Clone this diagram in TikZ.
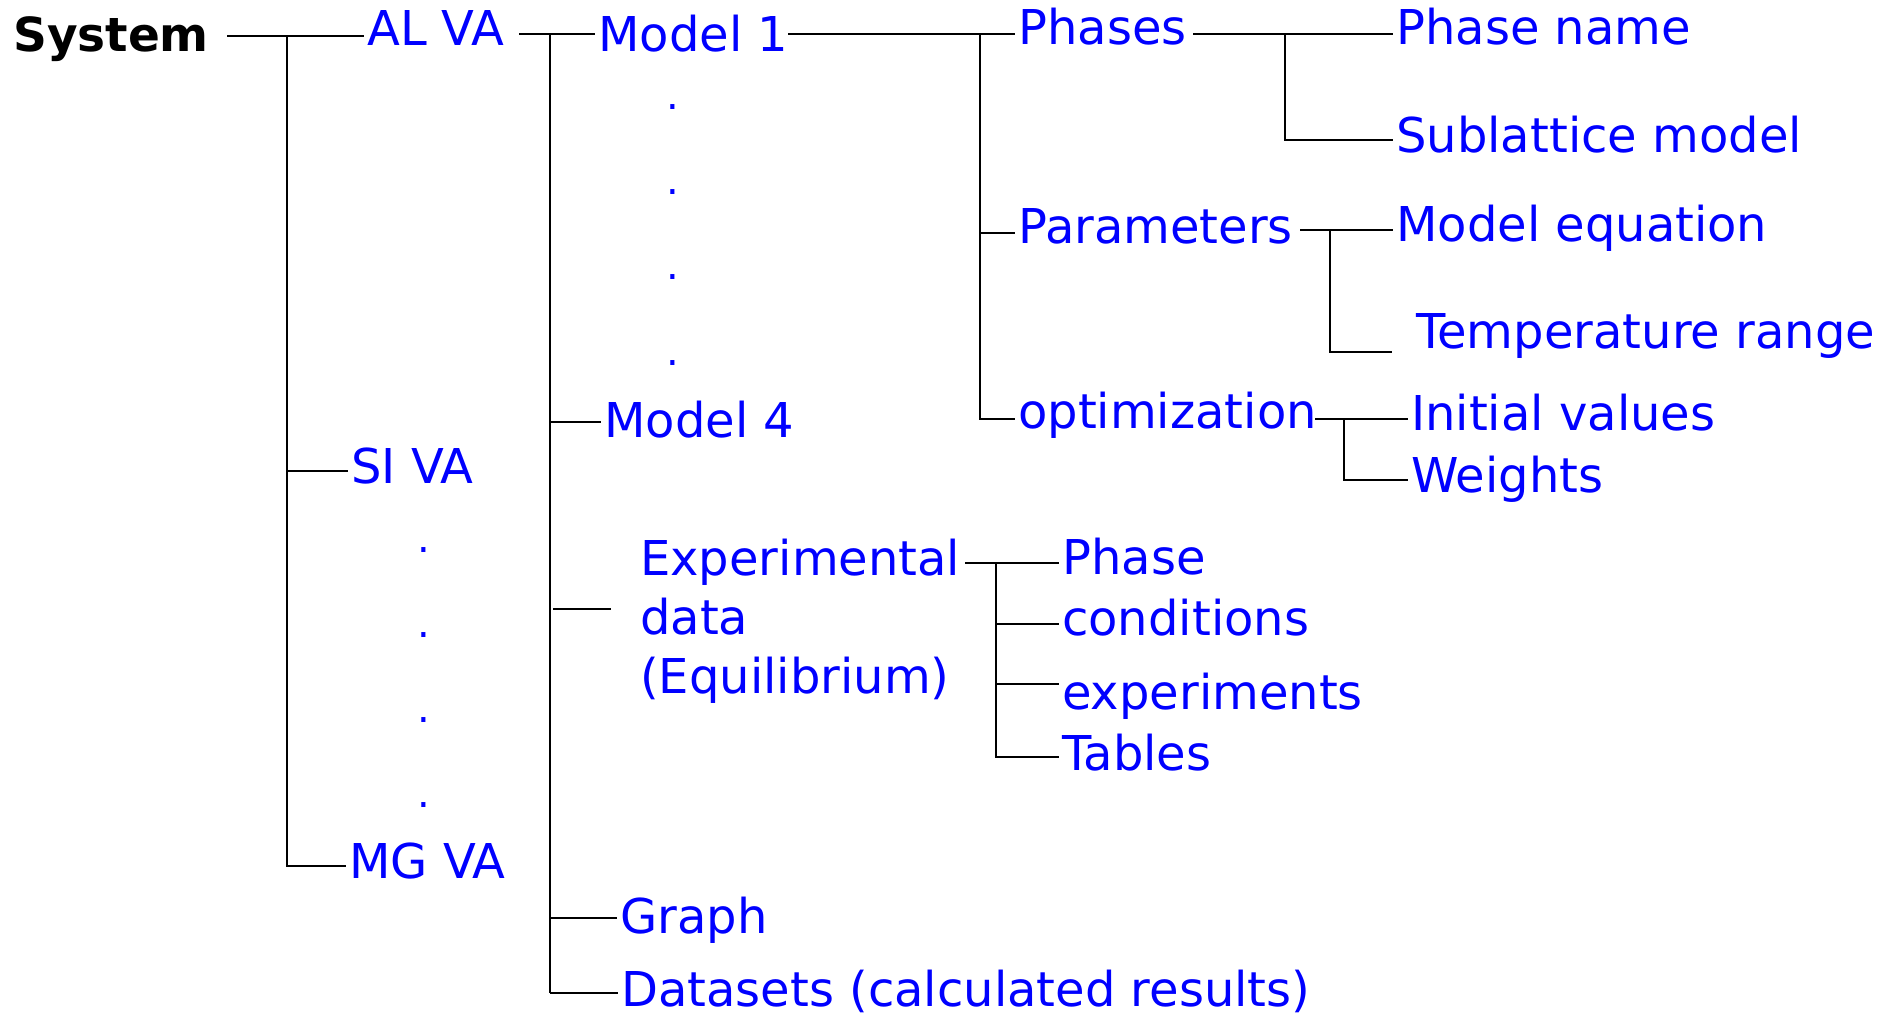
\documentclass[tikz,border=0pt]{standalone}
\usepackage{fontspec}
\setmainfont{DejaVu Sans}
\usetikzlibrary{calc}
\definecolor{tblue}{RGB}{0,0,255}
\begin{document}
\begin{tikzpicture}[x=1pt,y=-1pt,
  lbl/.style={text=tblue, font=\fontsize{48}{59}\selectfont, inner xsep=3pt, inner ysep=0pt, anchor=base west, align=left},
  rootlbl/.style={text=black, font=\fontsize{47}{57}\selectfont\bfseries, inner sep=0pt, anchor=base west},
  dotlbl/.style={text=tblue, font=\fontsize{40}{46}\selectfont, inner sep=0pt},
  conn/.style={draw=black, line width=1.8pt}]
\useasboundingbox (0,0) rectangle (1886,1014);

% ---- labels ----
\node[rootlbl] (sys) at (13,52) {System};
\node[lbl] (alva) at (364,46) {AL VA};
\node[lbl] (siva) at (348,483) {SI VA};
\node[lbl] (mgva) at (346,878) {MG VA};
\node[dotlbl] (sd1) at (424,550) {.};
\node[dotlbl] (sd2) at (424,635) {.};
\node[dotlbl] (sd3) at (424,720) {.};
\node[dotlbl] (sd4) at (424,805) {.};

\node[lbl] (m1) at (595,52) {Model 1};
\node[dotlbl] (md1) at (673,107) {.};
\node[dotlbl] (md2) at (673,192) {.};
\node[dotlbl] (md3) at (673,277) {.};
\node[dotlbl] (md4) at (673,363) {.};
\node[lbl] (m4) at (601,437) {Model 4};
\node[lbl] (exp) at (637,693) {Experimental\\data\\(Equilibrium)};
\node[lbl] (graph) at (617,933) {Graph};
\node[lbl] (dsets) at (618,1006) {Datasets (calculated results)};

\node[lbl] (phases) at (1015,45) {Phases};
\node[lbl] (params) at (1015,243) {Parameters};
\node[lbl] (optim) at (1015,428) {optimization};

\node[lbl] (pname) at (1393,45) {Phase name};
\node[lbl] (subl) at (1393,152) {Sublattice model};
\node[lbl] (meq) at (1393,241) {Model equation};
\node[lbl] (trange) at (1413,348) {Temperature range};
\node[lbl] (init) at (1408,430) {Initial values};
\node[lbl] (wts) at (1408,492) {Weights};

\node[lbl] (ephase) at (1059,574) {Phase};
\node[lbl] (econd) at (1059,635) {conditions};
\node[lbl] (eexp) at (1059,709) {experiments};
\node[lbl] (etab) at (1059,770) {Tables};

% ---- junction coordinates ----
\coordinate (s0) at (227,36);
\coordinate (t0) at (287,36);
\coordinate (t0b) at (287,866);
\coordinate (a0) at (519,34);
\coordinate (t1) at (550,34);
\coordinate (t1b) at (550,993);
\coordinate (e0) at (553,609);
\coordinate (m0) at (788,34);
\coordinate (t2) at (980,34);
\coordinate (t2b) at (980,419);
\coordinate (p0) at (1193,34);
\coordinate (t3) at (1285,34);
\coordinate (t3b) at (1285,140);
\coordinate (q0) at (1300,230);
\coordinate (t4) at (1330,230);
\coordinate (t4b) at (1330,352);
\coordinate (o0) at (1315,419);
\coordinate (t5) at (1344,419);
\coordinate (t5b) at (1344,480);
\coordinate (x0) at (965,563);
\coordinate (t6) at (996,563);
\coordinate (t6b) at (996,757);

% ---- connectors ----
% System
\draw[conn] (s0) -- (alva.west |- s0);
\draw[conn] (t0) -- (t0b) -- (mgva.west |- t0b);
\draw[conn] (287,471) -- (siva.west |- 0,471);
% AL VA
\draw[conn] (a0) -- (m1.west |- a0);
\draw[conn] (t1) -- (t1b);
\draw[conn] (550,422) -- (m4.west |- 0,422);
\draw[conn] (e0) -- (611,609);
\draw[conn] (550,918) -- (graph.west |- 0,918);
\draw[conn] (550,993) -- (dsets.west |- 0,993);
% Model 1
\draw[conn] (m0) -- (phases.west |- m0);
\draw[conn] (t2) -- (t2b) -- (optim.west |- t2b);
\draw[conn] (980,233) -- (params.west |- 0,233);
% Phases
\draw[conn] (p0) -- (pname.west |- p0);
\draw[conn] (t3) -- (t3b) -- (subl.west |- t3b);
% Parameters
\draw[conn] (q0) -- (meq.west |- q0);
\draw[conn] (t4) -- (t4b) -- (1392,352);
% optimization
\draw[conn] (o0) -- (init.west |- o0);
\draw[conn] (t5) -- (t5b) -- (wts.west |- t5b);
% Experimental data
\draw[conn] (x0) -- (ephase.west |- x0);
\draw[conn] (t6) -- (t6b) -- (etab.west |- t6b);
\draw[conn] (996,624) -- (econd.west |- 0,624);
\draw[conn] (996,684) -- (eexp.west |- 0,684);
\end{tikzpicture}
\end{document}
